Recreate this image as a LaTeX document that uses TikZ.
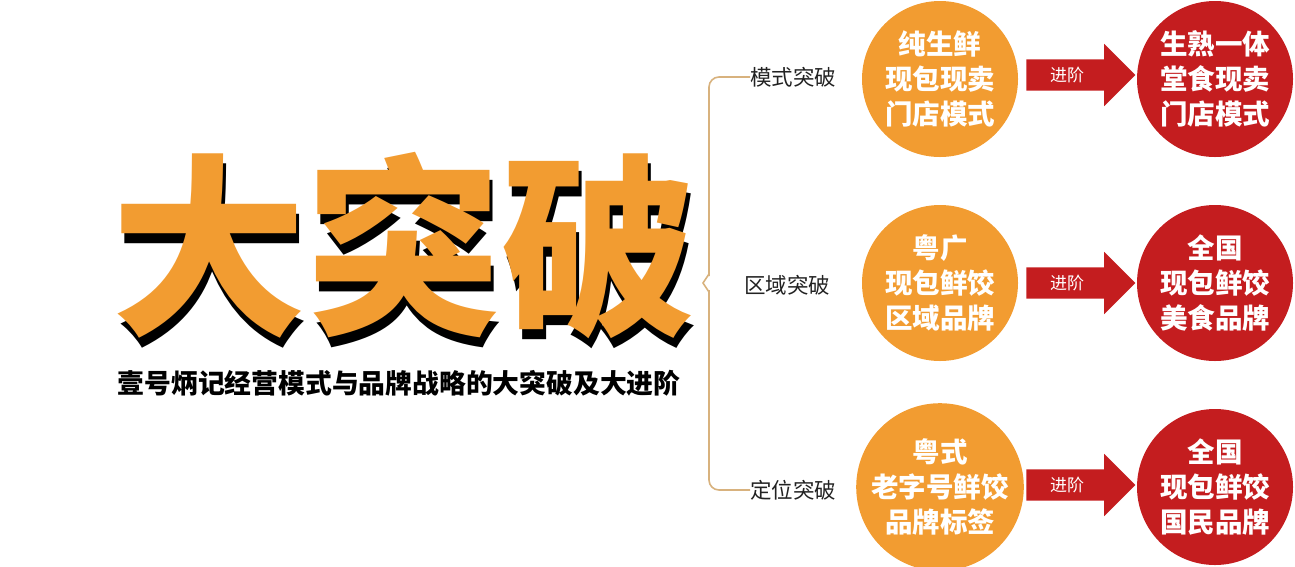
\documentclass[tikz,border=0pt]{standalone}
\usepackage{fontspec}
\setmainfont{Noto Sans CJK SC}
\newfontfamily\cjk{Noto Sans CJK SC}
\usetikzlibrary{shapes.arrows}
\definecolor{orng}{HTML}{F29C31}
\definecolor{rd}{HTML}{C41D1F}
\definecolor{brk}{HTML}{D8B27E}
\definecolor{txt}{HTML}{222222}
\tikzset{
  orangeball/.style={circle,fill=orng,minimum size=156pt,inner sep=0pt,text=white,align=center,
     font=\cjk\bfseries\fontsize{27.5}{35}\selectfont},
  redball/.style={circle,fill=rd,minimum size=156pt,inner sep=0pt,text=white,align=center,
     font=\cjk\bfseries\fontsize{27.5}{35}\selectfont},
  advarrow/.style={single arrow,fill=rd,minimum height=109pt,minimum width=61pt,
     single arrow head extend=15.5pt,inner xsep=0pt,inner ysep=15.5pt,anchor=center},
  advlabel/.style={text=white,font=\cjk\fontsize{17}{19}\selectfont,inner sep=0pt},
  branchlabel/.style={text=txt,font=\cjk\fontsize{21.5}{23}\selectfont,inner sep=0pt,anchor=west},
  bracket/.style={draw=brk,line width=1.6pt,rounded corners=10pt},
}
\begin{document}
\begin{tikzpicture}[x=1pt,y=-1pt]
\useasboundingbox (0,0) rectangle (1295,566);
% big title with shadow
\node[text=black,font=\cjk\bfseries\fontsize{195}{195}\selectfont,inner sep=0pt] (titleshadow) at (407,256) {大突破};
\node[text=orng,font=\cjk\bfseries\fontsize{195}{195}\selectfont,inner sep=0pt] (title) at (404,246) {大突破};
\node[text=black,font=\cjk\bfseries\fontsize{26.8}{28}\selectfont,inner sep=0pt] (subtitle) at (399,383) {壹号炳记经营模式与品牌战略的大突破及大进阶};
% branch labels
\node[branchlabel] (b1) at (750,77) {模式突破};
\node[branchlabel] (b2) at (744,285) {区域突破};
\node[branchlabel] (b3) at (750,490) {定位突破};
% bracket
\coordinate (tip) at (703,283);
\draw[bracket] (b1.west) -- (709,77) -- (709,276);
\draw[draw=brk,line width=1.6pt] (709,274) -- (tip) -- (709,292);
\draw[bracket] (709,290) -- (709,490) -- (b3.west);
% circles
\node[orangeball] (o1) at (940,79) {纯生鲜\\现包现卖\\门店模式};
\node[orangeball] (o2) at (940,283) {粤广\\现包鲜饺\\区域品牌};
\node[orangeball] (o3) at (940,487) {粤式\\老字号鲜饺\\品牌标签};
\node[redball] (r1) at (1215,79) {生熟一体\\堂食现卖\\门店模式};
\node[redball] (r2) at (1215,283) {全国\\现包鲜饺\\美食品牌};
\node[redball] (r3) at (1215,487) {全国\\现包鲜饺\\国民品牌};
% arrows
\node[advarrow] (a1) at (1073,75) {};
\node[advarrow] (a2) at (1073,283) {};
\node[advarrow] (a3) at (1073,485) {};
\node[advlabel] at (1067,75) {进阶};
\node[advlabel] at (1067,283) {进阶};
\node[advlabel] at (1067,485) {进阶};
\end{tikzpicture}
\end{document}
